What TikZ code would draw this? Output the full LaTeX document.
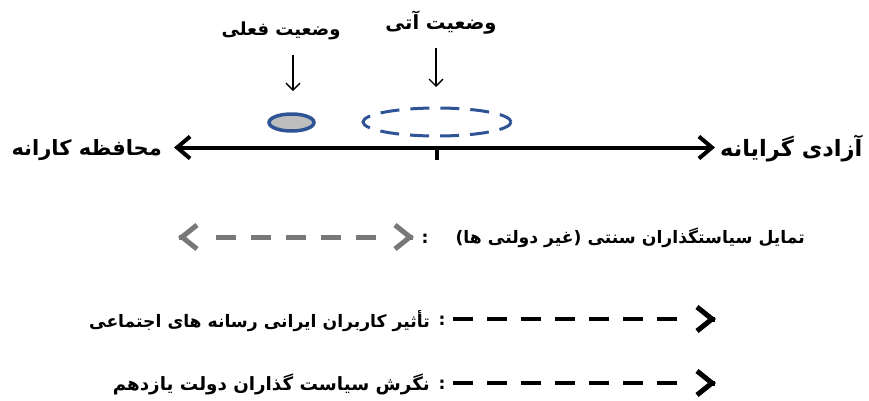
\documentclass[tikz,border=0pt]{standalone}
\usepackage{fontspec}
\usetikzlibrary{arrows.meta,shapes.geometric}
\TeXXeTstate=1
\newfontfamily\arabicfont[Script=Arabic]{DejaVu Sans}
\definecolor{ellblue}{RGB}{47,84,150}
\definecolor{ellgray}{RGB}{190,190,190}
\definecolor{arrgray}{RGB}{120,120,120}
\begin{document}
\begin{tikzpicture}[x=1pt,y=-1pt,
  fa/.style={font=\arabicfont\bfseries\fontsize{17.2}{20}\selectfont, inner sep=0pt},
  fatop/.style={font=\arabicfont\bfseries\fontsize{18}{21}\selectfont, inner sep=0pt},
  fabig/.style={font=\arabicfont\bfseries\fontsize{21}{24}\selectfont, inner sep=0pt},
  axtip/.tip={Straight Barb[length=13pt,width=22pt]},
  legtip/.tip={Straight Barb[length=15pt,width=24pt]},
  axis/.style={line width=4pt, axtip-axtip},
  downarr/.style={line width=1.3pt, -{Straight Barb[length=7pt,width=14pt]}},
  grayline/.style={arrgray, line width=5pt, dash pattern=on 20pt off 15pt},
  grayhead/.style={arrgray, line width=5pt, -legtip},
  blackline/.style={black, line width=4pt, dash pattern=on 20pt off 14pt},
  blackhead/.style={black, line width=5pt, -legtip}
]
\useasboundingbox (0,0) rectangle (869,400);
% axis
\coordinate (L) at (174,147.5);
\coordinate (R) at (715,147.5);
\draw[axis] (L) -- (R);
\coordinate (tk) at (437,147.5);
\coordinate (tk2) at (437,160);
\draw[line width=4pt] (tk) -- (tk2);
\node[fabig, anchor=east] (left) at (162,150) {\beginR محافظه کارانه\endR};
\node[fabig, font=\arabicfont\bfseries\fontsize{22.5}{26}\selectfont, anchor=west] (right) at (720,148) {\beginR آزادی گرایانه\endR};
% ellipses
\node[draw=ellblue, fill=ellgray, line width=3.5pt, ellipse, minimum width=45pt, minimum height=17pt, inner sep=0pt] (cur) at (291.5,122.5) {};
\node[draw=ellblue, line width=3pt, dash pattern=on 19pt off 11pt, dash phase=5pt, ellipse, minimum width=148pt, minimum height=28pt, inner sep=0pt] (fut) at (437,122) {};
% labels
\node[fatop] (curlab) at (281,31) {\beginR وضعیت فعلی\endR};
\node[fatop, font=\arabicfont\bfseries\fontsize{19.5}{22}\selectfont] (futlab) at (441,23) {\beginR وضعیت آتی\endR};
\coordinate (c1) at (293,55);
\coordinate (c2) at (293,91);
\coordinate (f1) at (436,48);
\coordinate (f2) at (436,87);
\draw[downarr] (c1) -- (c2);
\draw[downarr] (f1) -- (f2);
% legend row 1
\coordinate (g1) at (216,237);
\coordinate (g2) at (376,237);
\draw[grayline] (g1) -- (g2);
\coordinate (gl) at (178,237);
\coordinate (gl0) at (179,237);
\coordinate (gr) at (414,237);
\coordinate (gr0) at (413,237);
\draw[grayhead] (gl0) -- (gl);
\draw[grayhead] (gr0) -- (gr);
\node[fa] (colon1) at (425,239) {:};
\node[fa, anchor=east] (t1) at (805,238) {\beginR تمایل سیاستگذاران سنتی (غیر دولتی ها)\endR};
% legend row 2
\coordinate (b1) at (453,319);
\coordinate (b2) at (678,319);
\draw[blackline] (b1) -- (b2);
\coordinate (br) at (716,319);
\coordinate (br0) at (715,319);
\draw[blackhead] (br0) -- (br);
\node[fa] (colon2) at (442,321) {:};
\node[fa, anchor=east] (t2) at (430,321) {\beginR تأثیر کاربران ایرانی رسانه های اجتماعی\endR};
% legend row 3
\coordinate (d1) at (453,383);
\coordinate (d2) at (678,383);
\draw[blackline] (d1) -- (d2);
\coordinate (dr) at (716,383);
\coordinate (dr0) at (715,383);
\draw[blackhead] (dr0) -- (dr);
\node[fa] (colon3) at (442,385) {:};
\node[fa, font=\arabicfont\bfseries\fontsize{18.3}{21}\selectfont, anchor=east] (t3) at (430,384) {\beginR نگرش سیاست گذاران دولت یازدهم\endR};
\end{tikzpicture}
\end{document}
